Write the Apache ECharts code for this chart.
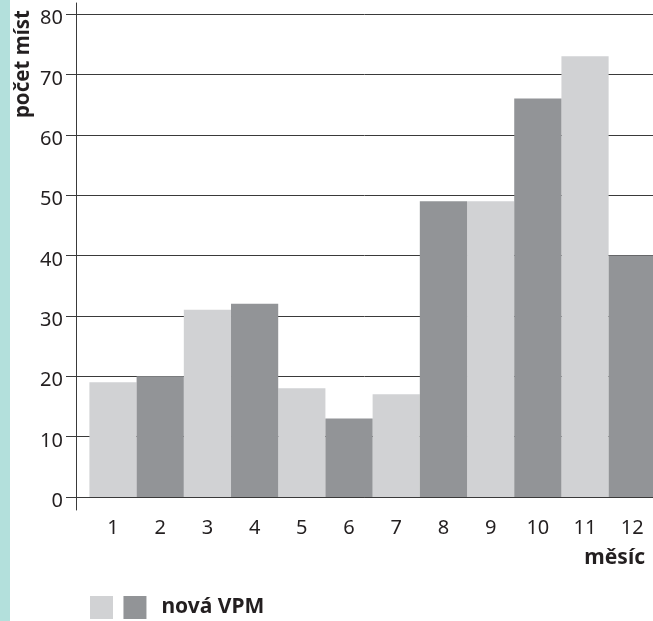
<!DOCTYPE html>
<html><head><meta charset="utf-8">
<script src="https://cdn.jsdelivr.net/npm/echarts@6/dist/echarts.min.js"></script>
<style>html,body{margin:0;padding:0;background:#fff}#c{width:653px;height:621px}</style>
</head><body><div id="c"></div>
<script>
const monthNums = [1,2,3,4,5,6,7,8,9,10,11,12];
const monthLabels = ['1','2','3','4','5','6','7','8','9','10','11','12'];
const values = [19,20,31,32,18,13,17,49,49,66,73,40];
const yTicks = [0,10,20,30,40,50,60,70,80];
const lightName = ' ';
const darkName = 'nová VPM';
const yTitle = 'počet míst';
const xTitle = 'měsíc';

const lightData = [], darkData = [];
monthNums.forEach((m,i)=>{ (m % 2 === 1 ? lightData : darkData).push([m, values[i]]); });

const FONT = 'Noto Sans';
const TXT = '#231f20';
const LINE = '#3a3a3a';

const chart = echarts.init(document.getElementById('c'), null, {renderer:'canvas'});
chart.setOption({
  animation:false,
  textStyle:{fontFamily:FONT},
  graphic:[
    {type:'rect', left:0, top:0, shape:{width:10, height:621}, style:{fill:'#b3e0dc'}, z:-1},
    {type:'text', x:23, y:10, rotation:Math.PI/2,
     style:{text:yTitle, font:'bold 20.5px "Noto Sans"', fill:TXT, align:'right', verticalAlign:'middle'}},
    {type:'text', x:645, y:558,
     style:{text:xTitle, font:'bold 21px "Noto Sans"', fill:TXT, align:'right', verticalAlign:'middle'}}
  ],
  legend:{
    left:90, top:596, padding:0, itemWidth:23, itemHeight:23, itemGap:0, icon:'rect',
    selectedMode:false,
    data:[{name:lightName},{name:darkName, textStyle:{padding:[0,0,0,10]}}],
    textStyle:{fontSize:21, fontWeight:'bold', color:TXT, fontFamily:FONT}
  },
  grid:[
    {left:76, right:0, top:14, bottom:124, containLabel:false},
    {left:76, width:10, top:3, bottom:111, containLabel:false}
  ],
  xAxis:[
    {type:'value', gridIndex:0, min:0.216, max:12.44,
     axisLine:{show:true, lineStyle:{color:LINE, width:1}},
     axisTick:{show:false}, splitLine:{show:false},
     axisLabel:{customValues:monthNums, formatter:v=>monthLabels[monthNums.indexOf(v)],
       fontSize:20, color:TXT, margin:21, fontFamily:FONT}},
    {type:'value', gridIndex:1, show:false, min:0, max:1}
  ],
  yAxis:[
    {type:'value', gridIndex:0, min:0, max:80, interval:10,
     axisLine:{show:true, lineStyle:{color:LINE, width:1}},
     axisTick:{show:true, length:10, lineStyle:{color:LINE, width:1}},
     axisLabel:{margin:13, customValues:yTicks,
       formatter:v=>'{a|' + v + '}',
       rich:{a:{fontSize:20, color:TXT, fontFamily:FONT, padding:[9,0,0,0]}}},
     splitLine:{show:true, lineStyle:{color:LINE, width:1}}},
    {type:'value', gridIndex:1, min:0, max:1,
     axisLine:{show:true, lineStyle:{color:LINE, width:1}},
     axisTick:{show:false}, axisLabel:{show:false}, splitLine:{show:false}}
  ],
  series:[
    {name:lightName, type:'bar', xAxisIndex:0, yAxisIndex:0, data:lightData,
     barWidth:'100%', barGap:'-100%', itemStyle:{color:'#d1d2d4'}, z:1},
    {name:darkName, type:'bar', xAxisIndex:0, yAxisIndex:0, data:darkData,
     barWidth:'100%', barGap:'-100%', itemStyle:{color:'#929497'}, z:1}
  ]
});
</script></body></html>
